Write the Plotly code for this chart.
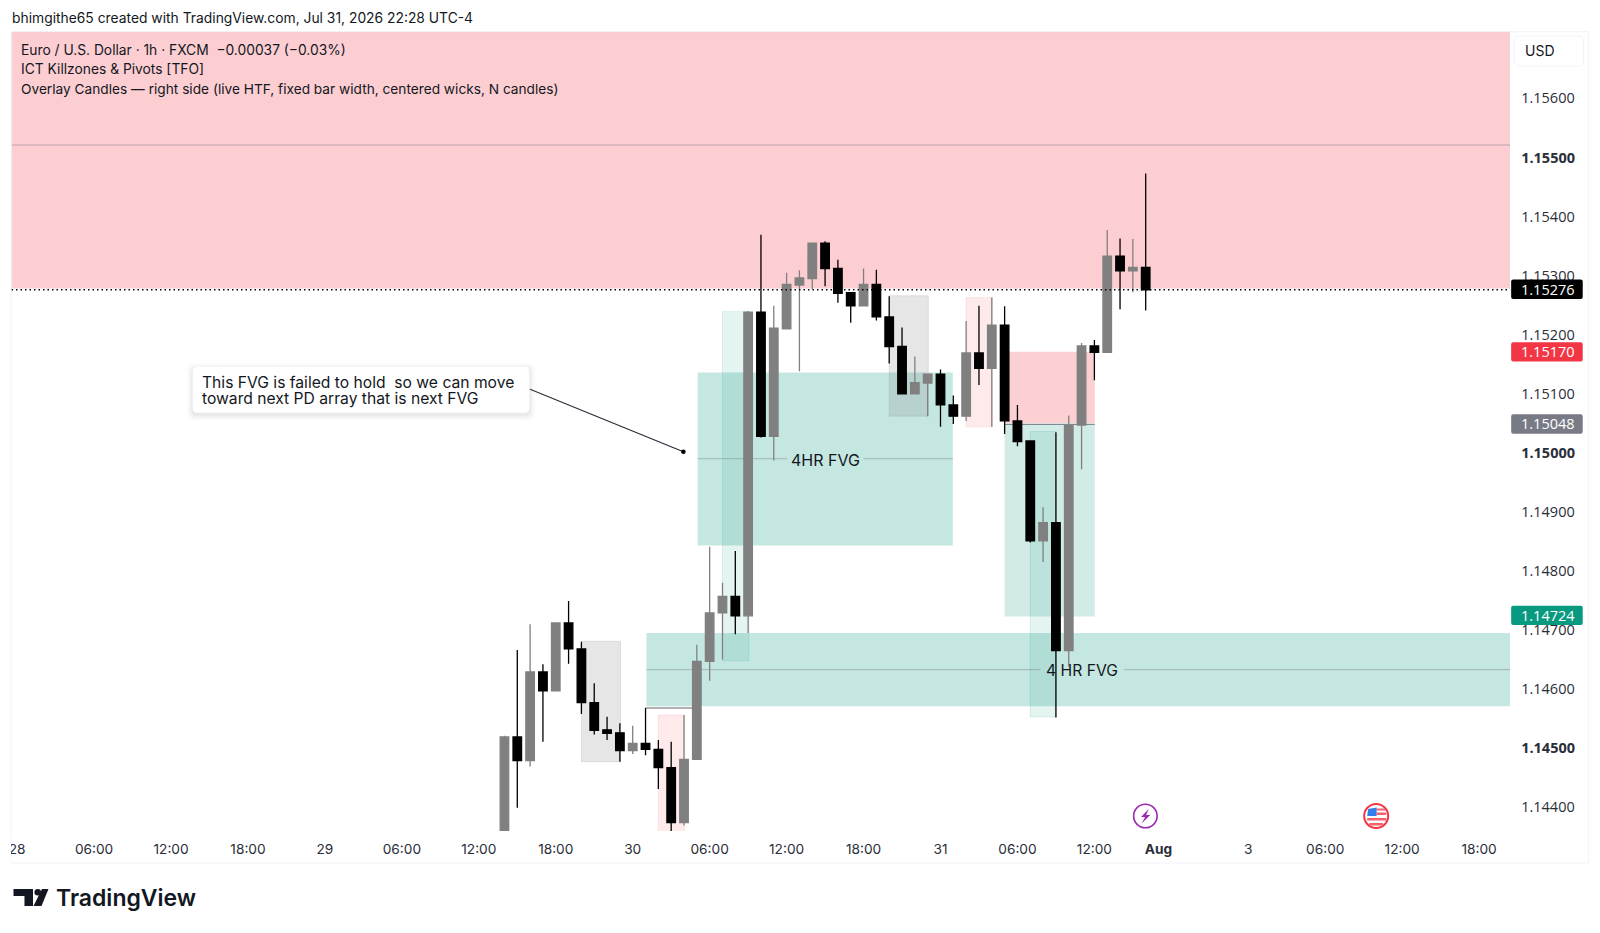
import plotly.graph_objects as go

FONT = "Inter"
NUM_FONT = "Open Sans"
W, H = 1600, 933
PL, PR, PT, PB = 11.5, 1510.0, 31.7, 831.0

# ---- data ----
bar_index = list(range(38, 89))
opens = [1.14340, 1.14519, 1.14479, 1.14629, 1.14597, 1.14712, 1.14668, 1.14577, 1.14531, 1.14526,
         1.14496, 1.14508, 1.14498, 1.14467, 1.14374, 1.14481, 1.14647, 1.14729, 1.14757, 1.14724,
         1.15238, 1.15028, 1.15210, 1.15284, 1.15295, 1.15355, 1.15312, 1.15271, 1.15249, 1.15285,
         1.15230, 1.15180, 1.15100, 1.15118, 1.15133, 1.15081, 1.15062, 1.15169, 1.15143, 1.15216,
         1.15054, 1.15020, 1.14851, 1.14882, 1.14665, 1.15047, 1.15181, 1.15170, 1.15333, 1.15308,
         1.15314]
highs = [1.14521, 1.14666, 1.14710, 1.14642, 1.14712, 1.14749, 1.14680, 1.14610, 1.14553, 1.14542,
         1.14538, 1.14568, 1.14514, 1.14511, 1.14556, 1.14675, 1.14841, 1.14780, 1.14834, 1.15240,
         1.15369, 1.15249, 1.15305, 1.15309, 1.15356, 1.15358, 1.15327, 1.15271, 1.15312, 1.15310,
         1.15265, 1.15212, 1.15163, 1.15134, 1.15141, 1.15097, 1.15223, 1.15249, 1.15263, 1.15248,
         1.15081, 1.15020, 1.14908, 1.15035, 1.15063, 1.15186, 1.15191, 1.15377, 1.15363, 1.15362,
         1.15473]
lows = [1.14330, 1.14399, 1.14469, 1.14511, 1.14597, 1.14643, 1.14558, 1.14523, 1.14514, 1.14477,
        1.14490, 1.14488, 1.14431, 1.14350, 1.14369, 1.14480, 1.14614, 1.14650, 1.14693, 1.14695,
        1.15026, 1.14987, 1.15210, 1.15138, 1.15277, 1.15282, 1.15254, 1.15220, 1.15249, 1.15224,
        1.15151, 1.15100, 1.15100, 1.15062, 1.15044, 1.15049, 1.15054, 1.15115, 1.15044, 1.15032,
        1.15011, 1.14848, 1.14815, 1.14552, 1.14638, 1.14972, 1.15123, 1.15170, 1.15243, 1.15272,
        1.15241]
closes = [1.14519, 1.14479, 1.14629, 1.14597, 1.14712, 1.14668, 1.14577, 1.14530, 1.14525, 1.14496,
          1.14508, 1.14498, 1.14467, 1.14374, 1.14481, 1.14647, 1.14729, 1.14757, 1.14724, 1.15238,
          1.15028, 1.15211, 1.15285, 1.15296, 1.15355, 1.15312, 1.15270, 1.15249, 1.15285, 1.15230,
          1.15180, 1.15100, 1.15119, 1.15133, 1.15081, 1.15062, 1.15169, 1.15143, 1.15216, 1.15054,
          1.15019, 1.14851, 1.14882, 1.14665, 1.15046, 1.15181, 1.15170, 1.15333, 1.15308, 1.15314,
          1.15276]

x_tick_vals = [0, 6, 12, 18, 24, 30, 36, 42, 48, 54, 60, 66, 72, 78, 84, 89, 96, 102, 108, 114]
x_tick_text = ["28", "06:00", "12:00", "18:00", "29", "06:00", "12:00", "18:00", "30", "06:00",
               "12:00", "18:00", "31", "06:00", "12:00", "<b>Aug</b>", "3", "06:00", "12:00", "18:00"]
y_tick_vals = [1.144, 1.145, 1.146, 1.147, 1.148, 1.149, 1.150, 1.151, 1.152, 1.153, 1.154, 1.155, 1.156]
y_tick_text = ["1.14400", "<b>1.14500</b>", "1.14600", "1.14700", "1.14800", "1.14900", "<b>1.15000</b>",
               "1.15100", "1.15200", "1.15300", "1.15400", "<b>1.15500</b>", "1.15600"]

x_range = [-0.44, 116.42]
y_range = [1.143598, 1.157129]

# x0, x1, y0, y1 (bar index, price), rgba fill, outline
PINK = "242,54,69"
TEAL = "8,153,129"
GREY = "128,128,128"
zones = [
    (-0.44, 116.42, 1.15278, 1.157129, f"rgba({PINK},0.245)", None),
    (49.07, 116.42, 1.14571, 1.14695, f"rgba({TEAL},0.235)", None),
    (53.07, 72.96, 1.14843, 1.15136, f"rgba({TEAL},0.235)", None),
    (55.0, 57.06, 1.14648, 1.15239, f"rgba({TEAL},0.11)", f"rgba({TEAL},0.12)"),
    (44.0, 47.05, 1.14477, 1.14681, f"rgba({GREY},0.2)", f"rgba({GREY},0.18)"),
    (50.0, 52.05, 1.14358, 1.14556, f"rgba({PINK},0.11)", f"rgba({PINK},0.1)"),
    (68.0, 71.05, 1.15062, 1.15266, f"rgba({GREY},0.2)", f"rgba({GREY},0.18)"),
    (74.0, 76.05, 1.15044, 1.15263, f"rgba({PINK},0.11)", f"rgba({PINK},0.1)"),
    (77.0, 84.03, 1.15050, 1.15171, f"rgba({PINK},0.24)", None),
    (77.0, 84.03, 1.14723, 1.15050, f"rgba({TEAL},0.19)", None),
    (79.0, 81.0, 1.14553, 1.15036, f"rgba({TEAL},0.11)", f"rgba({TEAL},0.14)"),
]
# x0, x1, price, colour
level_lines = [
    (-0.44, 116.42, 1.15521, "rgba(120,123,134,0.5)"),
    (53.07, 60.04, 1.14990, "rgba(120,123,134,0.45)"),
    (66.0, 72.96, 1.14990, "rgba(120,123,134,0.45)"),
    (49.07, 79.8, 1.14633, "rgba(120,123,134,0.45)"),
    (86.3, 116.42, 1.14633, "rgba(120,123,134,0.45)"),
    (77.0, 84.03, 1.15048, "rgba(120,123,134,0.9)"),
    (49.0, 53.0, 1.14568, "rgba(60,60,60,0.8)"),
]
# price, label colour
price_tags = [(1.15276, "#000000"), (1.15170, "#F23645"), (1.15048, "#787B86"), (1.14724, "#089981")]
tag_text = ["1.15276", "1.15170", "1.15048", "1.14724"]


def px(v):
    if v < 1510:
        v = v - 3 * (1510 - v) / 1498.5
    return v / W


def py(v):
    return 1 - v / H


def path(*pts, close=True):
    s = "M " + " L ".join(f"{px(a):.5f},{py(b):.5f}" for a, b in pts)
    return s + (" Z" if close else "")


def rrect(x0, y0, x1, y1, r):
    return (f"M {px(x0+r):.5f},{py(y0):.5f} L {px(x1-r):.5f},{py(y0):.5f} "
            f"Q {px(x1):.5f},{py(y0):.5f} {px(x1):.5f},{py(y0+r):.5f} L {px(x1):.5f},{py(y1-r):.5f} "
            f"Q {px(x1):.5f},{py(y1):.5f} {px(x1-r):.5f},{py(y1):.5f} L {px(x0+r):.5f},{py(y1):.5f} "
            f"Q {px(x0):.5f},{py(y1):.5f} {px(x0):.5f},{py(y1-r):.5f} L {px(x0):.5f},{py(y0+r):.5f} "
            f"Q {px(x0):.5f},{py(y0):.5f} {px(x0+r):.5f},{py(y0):.5f} Z")


shapes = []
# panel frame
shapes.append(dict(type="rect", xref="paper", yref="paper", x0=px(11), x1=px(1588.7), y0=py(863), y1=py(31.7),
                   line=dict(color="#F0F3FA", width=1), layer="below"))
for x0, x1, y0, y1, fill, edge in zones:
    shapes.append(dict(type="rect", xref="x", yref="y", x0=x0, x1=x1, y0=y0, y1=y1, fillcolor=fill,
                       line=dict(color=edge or "rgba(0,0,0,0)", width=1 if edge else 0), layer="below"))
for x0, x1, p, c in level_lines:
    shapes.append(dict(type="line", xref="x", yref="y", x0=x0, x1=x1, y0=p, y1=p,
                       line=dict(color=c, width=1), layer="below"))
# last price dotted line
shapes.append(dict(type="line", xref="x", yref="y", x0=x_range[0], x1=x_range[1], y0=closes[-1], y1=closes[-1],
                   line=dict(color="#000000", width=1.4, dash="1.5px,3px"), layer="above"))
# white mask clipping the "28" label on the left
shapes.append(dict(type="rect", xref="paper", yref="paper", x0=0, x1=px(11), y0=py(862), y1=py(836),
                   fillcolor="#ffffff", line=dict(width=0), layer="above"))
# price tags
half = 9.7 * (y_range[1] - y_range[0]) / (PB - PT)
for p, c in price_tags:
    shapes.append(dict(type="path", xref="paper", yref="paper", layer="above", fillcolor=c, line=dict(width=0),
                       path=rrect(1511, 831 - (p - y_range[0]) / (y_range[1] - y_range[0]) * (PB - PT) - 10.2,
                                  1582.7, 831 - (p - y_range[0]) / (y_range[1] - y_range[0]) * (PB - PT) + 9.2, 2)))
# USD button
shapes.append(dict(type="path", xref="paper", yref="paper", path=rrect(1514, 36, 1583.5, 66, 5),
                   fillcolor="#ffffff", line=dict(color="#F0F3FA", width=1), layer="above"))
# callout shadow, box, leader
for grow, a in [(6, 0.012), (4.5, 0.016), (3, 0.022), (1.5, 0.03)]:
    shapes.append(dict(type="path", xref="paper", yref="paper",
                       path=rrect(192.7 - grow, 366.7 - grow + 2, 529.3 + grow, 412.7 + grow + 2, 6),
                       fillcolor=f"rgba(0,0,0,{a})", line=dict(width=0), layer="above"))
shapes.append(dict(type="path", xref="paper", yref="paper", path=rrect(192.7, 366.7, 529.3, 412.7, 5),
                   fillcolor="#ffffff", line=dict(width=0), layer="above"))
shapes.append(dict(type="line", xref="paper", yref="paper", x0=px(530), y0=py(389.3), x1=px(683.3), y1=py(451.7),
                   line=dict(color="#2A2E39", width=1.2), layer="above"))
shapes.append(dict(type="circle", xref="paper", yref="paper", x0=px(681), x1=px(685.6), y0=py(454), y1=py(449.4),
                   fillcolor="#000000", line=dict(width=0), layer="above"))
# TradingView logo mark
shapes.append(dict(type="path", xref="paper", yref="paper", layer="above", fillcolor="#131722", line=dict(width=0),
                   path=path((13.5, 889), (33, 889), (33, 906), (24.5, 906), (24.5, 896), (13.5, 896))))
shapes.append(dict(type="circle", xref="paper", yref="paper", layer="above", fillcolor="#131722", line=dict(width=0),
                   x0=px(34.5), x1=px(41), y0=py(895.5), y1=py(889)))
shapes.append(dict(type="path", xref="paper", yref="paper", layer="above", fillcolor="#131722", line=dict(width=0),
                   path=path((42, 889), (48.5, 889), (41.5, 906), (33.5, 906))))
# event icons
shapes.append(dict(type="circle", xref="paper", yref="paper", layer="above", fillcolor="#ffffff",
                   line=dict(color="#9C27B0", width=1.6), x0=px(1133.5), x1=px(1157), y0=py(827.8), y1=py(804.2)))
shapes.append(dict(type="path", xref="paper", yref="paper", layer="above", fillcolor="#9C27B0", line=dict(width=0),
                   path=path((1148.5, 809), (1141, 817), (1145, 817), (1141.5, 823.5), (1150, 815), (1146, 815))))
shapes.append(dict(type="circle", xref="paper", yref="paper", layer="above", fillcolor="#ffffff",
                   line=dict(color="#F23645", width=2), x0=px(1364), x1=px(1388), y0=py(828), y1=py(804)))
shapes.append(dict(type="path", xref="paper", yref="paper", layer="above", fillcolor="#2F80ED", line=dict(width=0),
                   path=path((1368, 809), (1376.5, 807.5), (1376.5, 816), (1367, 816))))
for a, b, y0, y1 in [(1376.5, 1385, 808.5, 810.5), (1376.5, 1386, 812.5, 815), (1367, 1386, 818, 820.5), (1369, 1383, 823, 825.5)]:
    shapes.append(dict(type="rect", xref="paper", yref="paper", layer="above", fillcolor="#F4606C", line=dict(width=0),
                       x0=px(a), x1=px(b), y0=py(y1), y1=py(y0)))

annotations = []


def label(text, x, y, size=14, color="#131722", anchor="left", weight=None):
    f = dict(family=FONT, size=size, color=color)
    if weight:
        f["weight"] = weight
    annotations.append(dict(text=text, xref="paper", yref="paper", x=px(x), y=py(y), xanchor=anchor,
                            yanchor="middle", showarrow=False, font=f, borderpad=0, borderwidth=0))


label("bhimgithe65 created with TradingView.com, Jul 31, 2026 22:28 UTC-4", 12, 18.5, 13.85)
label("Euro / U.S. Dollar · 1h · FXCM  \u22120.00037 (\u22120.03%)", 21, 49.5, 13.8)
label("ICT Killzones &amp; Pivots [TFO]", 21, 69, 13.8)
label("Overlay Candles — right side (live HTF, fixed bar width, centered wicks, N candles)", 21, 89, 13.7)
label("USD", 1525, 50.5, 14)
label("This FVG is failed to hold  so we can move", 202, 382, 15.65)
label("toward next PD array that is next FVG", 202, 398, 15.65)
label("4HR FVG", 825, 460, 16, anchor="center")
label("4 HR FVG", 1081.7, 670, 15.7, anchor="center")
label("TradingView", 56.5, 898, 23, color="#131722", weight=600)
for (p, c), t in zip(price_tags, tag_text):
    annotations.append(dict(text=t, xref="paper", yref="y", x=px(1519), y=p, yshift=0.6, xanchor="left",
                            yanchor="middle", showarrow=False,
                            font=dict(family=NUM_FONT, size=14.5, color="#ffffff")))

fig = go.Figure(go.Candlestick(
    x=bar_index, open=opens, high=highs, low=lows, close=closes,
    increasing=dict(line=dict(color="#808080", width=1.3), fillcolor="#808080"),
    decreasing=dict(line=dict(color="#000000", width=1.3), fillcolor="#000000"),
    whiskerwidth=0, hoverinfo="skip", showlegend=False,
))
fig.update_layout(
    width=W, height=H, autosize=False, margin=dict(l=0, r=0, t=0, b=0),
    paper_bgcolor="#ffffff", plot_bgcolor="rgba(0,0,0,0)", showlegend=False,
    font=dict(family=FONT, size=14, color="#131722"), boxgap=0.05,
    shapes=shapes, annotations=annotations,
    xaxis=dict(domain=[px(PL), px(PR)], range=x_range, type="linear", rangeslider=dict(visible=False),
               tickmode="array", tickvals=x_tick_vals, ticktext=x_tick_text, ticks="", showgrid=False,
               zeroline=False, showline=False, tickangle=0, tickfont=dict(family=FONT, size=13.7, color="#2A2E39"),
               ticklabelstandoff=8),
    yaxis=dict(domain=[py(PB), py(PT)], range=y_range, side="right", tickmode="array", tickvals=y_tick_vals,
               ticktext=y_tick_text, ticks="", showgrid=False, zeroline=False, showline=False,
               tickfont=dict(family=NUM_FONT, size=14.5, color="#2A2E39"), ticklabelstandoff=10),
)
fig.write_html("out.html", config=dict(displayModeBar=False),
               post_script="document.body.style.margin='0';document.body.style.overflow='hidden';")
